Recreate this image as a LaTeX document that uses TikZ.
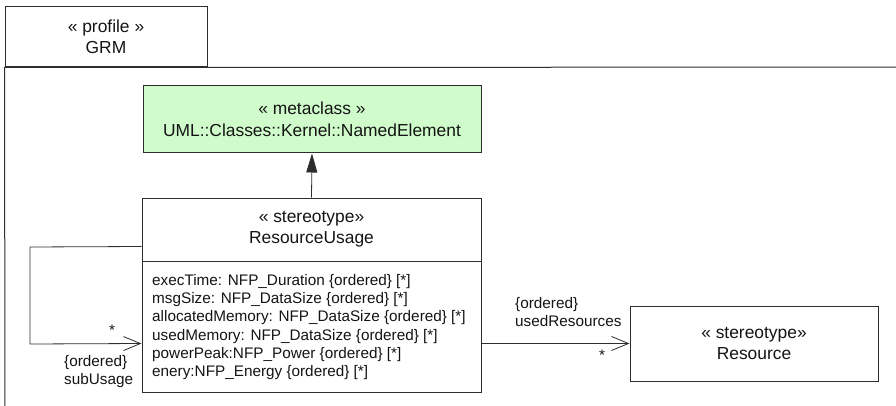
\documentclass[tikz,border=0pt]{standalone}
\usepackage{fontspec}
\setmainfont{Liberation Sans}
\usetikzlibrary{arrows.meta,positioning,calc}
\definecolor{ln}{RGB}{45,45,45}
\definecolor{metafill}{RGB}{208,252,204}
\definecolor{txt}{RGB}{20,20,20}
\tikzset{
  box/.style={draw=ln,line width=1pt,rectangle,inner sep=0pt,text=txt,align=center},
  ttl/.style={font=\fontsize{17.4}{21.5}\selectfont},
  attr/.style={font=\fontsize{15.3}{18.3}\selectfont,align=left,inner sep=0pt,anchor=north west,text=txt},
  lbl/.style={font=\fontsize{15.3}{18}\selectfont,inner sep=0pt,text=txt,align=left},
  conn/.style={draw=ln,line width=0.8pt},
  openhead/.style={-{Straight Barb[length=17pt,width=14pt,line width=0.8pt]}},
}
\begin{document}
\begin{tikzpicture}[x=1pt,y=-1pt]
\useasboundingbox (0,0) rectangle (896,406);
% profile tab and frame
\node[box,minimum width=202pt,minimum height=60pt,ttl] (tab) at (106,37) {« profile »\\GRM};
\coordinate (fbl) at (5,410);
\coordinate (ftr) at (900,67);
\draw[ln,line width=1pt] (fbl) -- (tab.south west) -- (tab.south east) -- (ftr);
% metaclass
\node[box,fill=metafill,minimum width=338pt,minimum height=67pt,ttl] (meta) at (312,119.5) {« metaclass »\\UML::Classes::Kernel::NamedElement};
% ResourceUsage
\node[box,minimum width=339pt,minimum height=194pt] (ru) at (311.5,295) {};
\node[ttl,inner sep=0pt,text=txt,align=center] (rutitle) at (311.5,229) {« stereotype»\\ResourceUsage};
\coordinate (divl) at (142,261.5);
\coordinate (divr) at (481,261.5);
\draw[ln,line width=1pt] (divl) -- (divr);
\node[attr] (ruattr) at (152,274) {execTime: NFP\_Duration \{ordered\} [*]\\
msgSize: NFP\_DataSize \{ordered\} [*]\\
allocatedMemory: NFP\_DataSize \{ordered\} [*]\\
usedMemory: NFP\_DataSize \{ordered\} [*]\\
powerPeak:NFP\_Power \{ordered\} [*]\\
enery:NFP\_Energy \{ordered\} [*]};
% Resource
\node[box,minimum width=248pt,minimum height=75pt,ttl] (res) at (754,343.5) {« stereotype»\\Resource};
% arrow to metaclass
\draw[conn,-{Triangle[length=19pt,width=11pt]}] (ru.north) -- (meta.south);
% self association
\coordinate (loopa) at (30,247);
\coordinate (loopb) at (30,344);
\draw[conn,openhead] ($(ru.north west)+(0,49)$) -- (loopa) -- (loopb) -- ($(ru.north west)+(0,146)$);
\node[lbl] (selfstar) at (112,330) {*};
\node[lbl,anchor=north west] (selfrole) at (64,355) {\{ordered\}\\subUsage};
% used resources
\draw[conn,openhead] ($(ru.north east)+(0,146)$) -- (res.west);
\node[lbl,anchor=north west] (usedrole) at (515,297) {\{ordered\}\\usedResources};
\node[lbl] (usedstar) at (602,355) {*};
\end{tikzpicture}
\end{document}
